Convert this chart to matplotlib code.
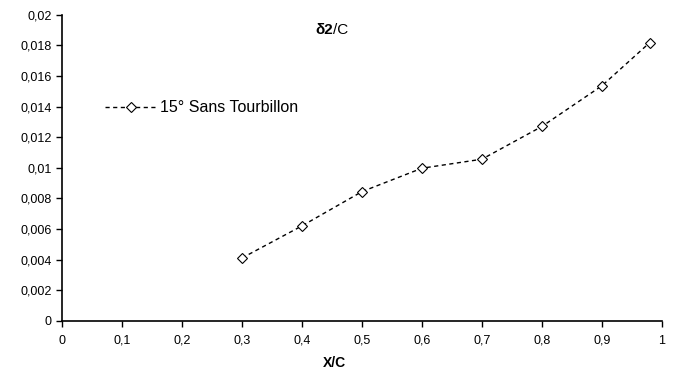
import matplotlib
matplotlib.use("Agg")
import matplotlib.pyplot as plt
from matplotlib.ticker import FuncFormatter

plt.rcParams["font.family"] = ["Liberation Sans", "DejaVu Sans"]

x_c = [0.3, 0.4, 0.5, 0.6, 0.7, 0.8, 0.9, 0.98]
delta2 = [0.0041, 0.0062, 0.00844, 0.00997, 0.01056, 0.0127, 0.01536, 0.01819]
series_label = "15° Sans Tourbillon"
x_ticks = [0, 0.1, 0.2, 0.3, 0.4, 0.5, 0.6, 0.7, 0.8, 0.9, 1]
y_ticks = [0, 0.002, 0.004, 0.006, 0.008, 0.01, 0.012, 0.014, 0.016, 0.018, 0.02]


def comma(v, pos):
    s = f"{v:.3f}".rstrip("0").rstrip(".")
    return s.replace(".", ",")


fig = plt.figure(figsize=(6.74, 3.8), dpi=100)
ax = fig.add_axes([0.092, 0.156, 0.890, 0.805])

ax.plot(x_c, delta2, color="black", linestyle=(0, (3, 2.5)), linewidth=1.0,
        marker="D", markersize=5, markerfacecolor="white",
        markeredgecolor="black", markeredgewidth=0.8, label=series_label)

ax.set_xlim(0, 1)
ax.set_ylim(0, 0.02)
ax.set_xticks(x_ticks)
ax.set_yticks(y_ticks)
ax.xaxis.set_major_formatter(FuncFormatter(comma))
ax.yaxis.set_major_formatter(FuncFormatter(comma))
ax.tick_params(labelsize=9, length=4, width=1, direction="out")
ax.tick_params(axis="x", pad=6)
for side in ["top", "right"]:
    ax.spines[side].set_visible(False)
for side in ["left", "bottom"]:
    ax.spines[side].set_linewidth(1.2)

ax.set_xlabel("X/C", fontsize=10, fontweight="bold")
ax.xaxis.set_label_coords(334 / 674, 1 - 356 / 380, transform=fig.transFigure)

fig.text(333 / 674, 1 - 30 / 380, "δ2", fontsize=11, fontweight="bold", ha="right", va="center")
fig.text(333 / 674, 1 - 30 / 380, "/C", fontsize=11, ha="left", va="center")

ax.legend(loc="center left", bbox_to_anchor=(105 / 674, 1 - 108 / 380),
          bbox_transform=fig.transFigure, frameon=False, borderpad=0,
          borderaxespad=0, fontsize=11.5, handlelength=3.2, handletextpad=0.25)

fig.savefig("out.png", dpi=100)
